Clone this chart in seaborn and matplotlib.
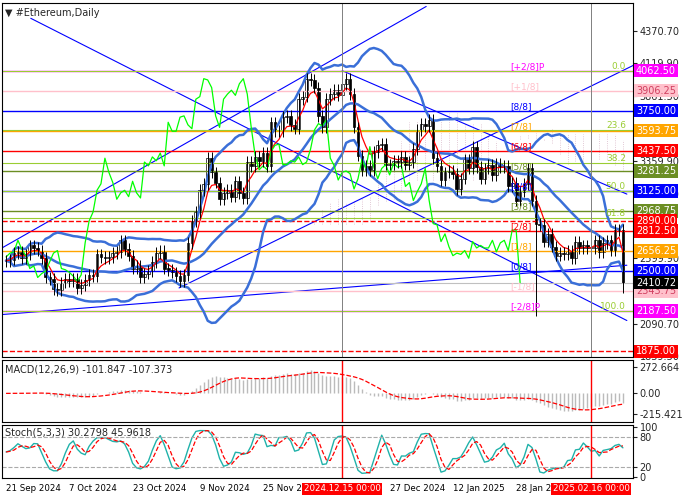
import numpy as np, pandas as pd, matplotlib
matplotlib.use("Agg")
import matplotlib.pyplot as plt
import seaborn as sns

closes = [2580,2590,2640,2650,2600,2630,2700,2680,2660,2600,
 2450,2440,2360,2350,2410,2440,2420,2440,2370,2390,
 2430,2470,2460,2630,2610,2600,2610,2640,2650,2740,
 2670,2620,2520,2540,2450,2480,2500,2570,2640,2660,2520,
 2510,2490,2460,2420,2470,2720,2890,2960,3130,3180,
 3380,3270,3190,3060,3110,3130,3080,3200,3110,3070,
 3350,3320,3390,3360,3420,3320,3660,3590,3590,3700,
 3710,3640,3610,3840,3860,4000,3990,3930,3710,3620,
 3840,3880,3910,3870,3960,4000,3880,3620,3400,3290,
 3320,3290,3430,3480,3490,3330,3330,3360,3350,3390,3330,
 3350,3450,3600,3650,3630,3680,3380,3320,3210,3270,
 3280,3260,3140,3220,3370,3300,3470,3310,3220,3300,
 3330,3250,3340,3310,3320,3160,3190,3050,3120,3180,3300,
 3050,2870,2860,2730,2790,2690,2620,2640,2630,2660,
 2600,2730,2680,2700,2680,2680,2740,2650,2720,2740,
 2660,2820,2820,2410]
tick_idx = [0,16,32,49,65,85,97,113,129,148]
tick_lbl = ["21 Sep 2024","7 Oct 2024","23 Oct 2024","9 Nov 2024","25 Nov 2024",
            "2024.12.15 00:00","27 Dec 2024","12 Jan 2025","28 Jan 2025","2025.02.16 00:00"]
levels = [4062.5,3906.25,3750,3593.75,3437.5,3281.25,3125,2968.75,2890,2812.5,2656.25,2500,2343.75,2187.5,1875]
lev_col = ["magenta","pink","blue","orange","red","olivedrab","blue","olivedrab","red","red","orange","blue","pink","magenta","red"]
mm_lbl = ["[+2/8]P","[+1/8]","[8/8]","[7/8]","[6/8]","[5/8]","[4/8]","[3/8]","","[2/8]","[1/8]","[0/8]","[-1/8]","[-2/8]P",""]
fib_p = [4062.5,3603,3340,3125,2914,2187.5]
fib_l = ["0.0","23.6","38.2","50.0","61.8","100.0"]
axis_ticks = [4370.70,4119.90,3861.50,3359.90,3101.50,2599.90,2090.70,1839.50]

sns.set_style("white")
plt.rcParams['font.family'] = ['DejaVu Sans']
c = pd.Series(closes, dtype=float)
n = len(c); idx = np.arange(n)
o = c.shift(1).fillna(c.iloc[0])
hi = np.maximum(o, c) + 45; lo = np.minimum(o, c) - 45
lo[134] = 2150; lo[156] = 2330

fig = plt.figure(figsize=(7,5), dpi=100)
ax = fig.add_axes([0.003,0.286,0.901,0.708])
am = fig.add_axes([0.003,0.156,0.901,0.124], sharex=ax)
ast = fig.add_axes([0.003,0.044,0.901,0.106], sharex=ax)
def py(y): return 4062.5-(y-65)*7.70
def px(x): return (x-5)/4.0

tenkan = (c.rolling(9).max()+c.rolling(9).min())/2
kijun = (c.rolling(26).max()+c.rolling(26).min())/2
spanA = ((tenkan+kijun)/2).shift(26); spanB = ((c.rolling(52).max()+c.rolling(52).min())/2).shift(26)
for i in range(0,n,2):
    if not np.isnan(spanA[i]) and not np.isnan(spanB[i]):
        ax.vlines(i, min(spanA[i],spanB[i]), max(spanA[i],spanB[i]), color="#d8b8c8", lw=0.6, linestyles=":")
for (x0,y0,x1,y1) in [(0,245,430,0),(180,285,700,30),(30,12,633,318),(345,65,633,190),(0,312,633,262)]:
    ax.plot([px(x0),px(x1)],[py(y0),py(y1)], color="blue", lw=0.8)
for p,col,l in zip(levels,lev_col,mm_lbl):
    ls = "--" if p in (2890,1875) else "-"
    ax.axhline(p, color=col, lw=1, ls=ls)
    if l: ax.text(px(515), p+15, l, color=col, fontsize=6.5)
for p,l in zip(fib_p,fib_l):
    ax.axhline(p, color="yellowgreen", lw=0.8)
    ax.text(px(632), p+15, l, color="yellowgreen", fontsize=6.5, ha="right")
ax.axhline(2410.72, color="silver", lw=0.8)
mid = c.rolling(20, min_periods=1).mean(); sd = c.rolling(20, min_periods=1).std().fillna(0)
for s in [mid, mid+2*sd, mid-2*sd]:
    sns.lineplot(x=idx, y=s.values, ax=ax, color="#3a6fd8", lw=1.8)
sns.lineplot(x=idx, y=c.ewm(span=5).mean().values, ax=ax, color="red", lw=0.9)
sns.lineplot(x=idx[:-26], y=c.values[26:], ax=ax, color="lime", lw=0.9)
for i in range(n):
    ax.vlines(i, lo[i], hi[i], color="black", lw=0.7)
    ax.bar(i, abs(c[i]-o[i]) or 5, bottom=min(c[i],o[i]), width=0.7,
           color="white" if c[i]>=o[i] else "black", edgecolor="black", lw=0.5)
ax.set_ylim(1830, 4590)
ax.yaxis.tick_right(); ax.set_yticks(axis_ticks); ax.set_yticklabels([f"{t:.2f}" for t in axis_ticks], fontsize=7)
tr = ax.get_yaxis_transform()
for p,col in zip(levels,lev_col):
    ax.text(1.005, p, f"{p:.2f}", transform=tr, fontsize=7, color="white" if col not in ("pink",) else "#d04060",
            va="center", bbox=dict(fc=col, ec="none", pad=1.2), clip_on=False)
ax.text(1.005, 2410.72, "2410.72", transform=tr, fontsize=7, color="white", va="center",
        bbox=dict(fc="black", ec="none", pad=1.2), clip_on=False)
ax.text(0.005, 0.985, "▼ #Ethereum,Daily", transform=ax.transAxes, fontsize=7, va="top")
ax.axvline(85, color="gray", lw=0.7); ax.axvline(148, color="gray", lw=0.7)

macd = c.ewm(span=12).mean()-c.ewm(span=26).mean(); sig = macd.rolling(9, min_periods=1).mean()
am.vlines(idx, 0, macd.values, color="#bbbbbb", lw=1)
sns.lineplot(x=idx, y=sig.values, ax=am, color="red", lw=0.9, linestyle="--")
am.set_ylim(-300, 350); am.yaxis.tick_right()
am.set_yticks([272.664,0,-215.421]); am.set_yticklabels(["272.664","0.00","-215.421"], fontsize=7)
am.text(0.005, 0.93, "MACD(12,26,9) -101.847 -107.373", transform=am.transAxes, fontsize=7, va="top")
ll = c.rolling(5, min_periods=1).min()-40; hh = c.rolling(5, min_periods=1).max()+40
k = (100*(c-ll)/(hh-ll)).rolling(3, min_periods=1).mean(); d = k.rolling(3, min_periods=1).mean()
sns.lineplot(x=idx, y=k.values, ax=ast, color="lightseagreen", lw=1)
sns.lineplot(x=idx, y=d.values, ax=ast, color="red", lw=0.9, linestyle="--")
for v in (20,80): ast.axhline(v, color="#aaaaaa", lw=0.8, ls="--")
ast.set_ylim(-3,105); ast.yaxis.tick_right()
ast.set_yticks([0,20,80,100]); ast.set_yticklabels(["0","20","80","100"], fontsize=7)
ast.text(0.005, 0.95, "Stoch(5,3,3) 30.2798 45.9618", transform=ast.transAxes, fontsize=7, va="top")
for a in (am, ast):
    a.axvline(85, color="red", lw=1); a.axvline(148, color="red", lw=1)
for a in (ax, am, ast):
    for s in a.spines.values(): s.set_color("black")
    a.tick_params(length=3, pad=2)
ax.tick_params(labelbottom=False); am.tick_params(labelbottom=False)
ast.set_xlim(-1, 158.5)
ast.set_xticks(tick_idx); ast.set_xticklabels([])
for i,l in zip(tick_idx, tick_lbl):
    red = ":" in l
    ast.text(i, -0.12, l, transform=ast.get_xaxis_transform(), fontsize=6.2, ha="left" if not red else "center",
             va="top", color="white" if red else "black", zorder=5 if red else 3,
             bbox=dict(fc="red", ec="none", pad=1) if red else None)
fig.savefig("out.png", dpi=100)
